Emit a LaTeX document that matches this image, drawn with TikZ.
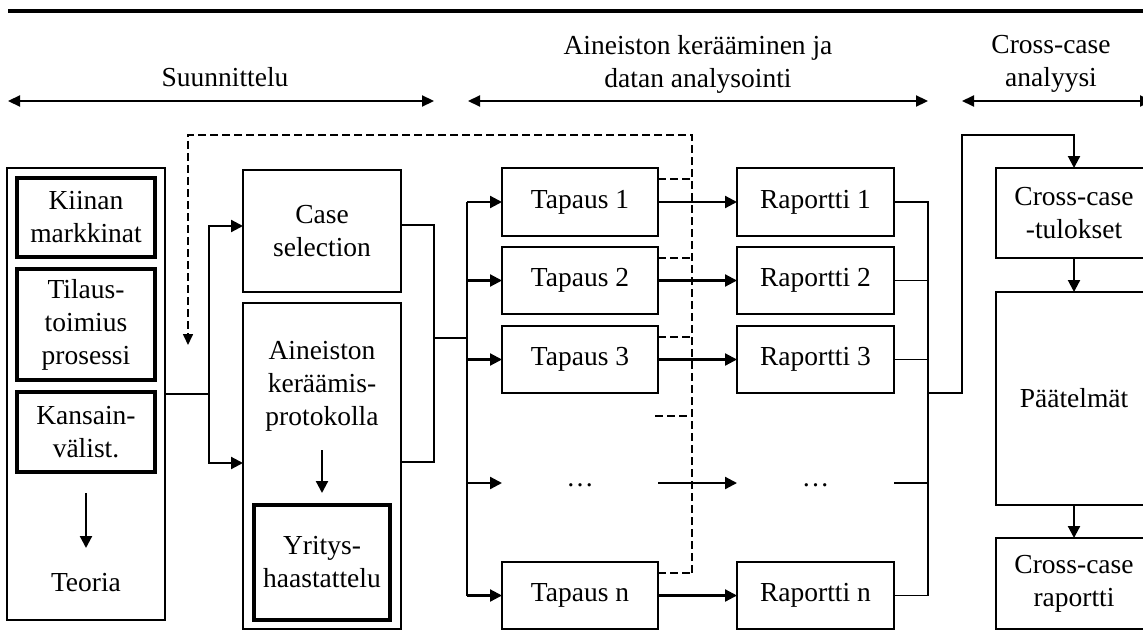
\documentclass[tikz,border=0pt]{standalone}
\usepackage{fontspec}
\setmainfont{Liberation Serif}
\usetikzlibrary{arrows.meta}
\begin{document}
\begin{tikzpicture}[x=0.5pt,y=-0.5pt,
  font=\fontsize{13.75}{16.5}\selectfont,
  box/.style={draw, line width=0.7pt, inner sep=0pt, outer sep=0pt, align=center},
  tbox/.style={draw, line width=1.7pt, inner sep=0pt, outer sep=0pt, align=center},
  conn/.style={line width=0.7pt},
  trunk/.style={line width=1.1pt},
  arr/.style={line width=1.1pt, -{Triangle[length=6pt,width=6pt]}},
  darr/.style={line width=1.1pt, {Triangle[length=6pt,width=5.5pt]}-{Triangle[length=6pt,width=5.5pt]}},
  fback/.style={line width=0.8pt, dash pattern=on 4pt off 2pt},
]
\useasboundingbox (0,0) rectangle (1143,642);
\fill[white] (0,0) rectangle (1143,642);
\clip (0,0) rectangle (1143,642);

% top rule
\coordinate (rl0) at (8,11);
\coordinate (rr0) at (1143,11);
\draw[line width=2pt] (rl0) -- (rr0);

% phase headings
\node[anchor=base] (hs) at (225,87) {Suunnittelu};
\node[align=center] (ha) at (698,64) {Aineiston kerääminen ja\\datan analysointi};
\node[align=center] (hc) at (1051,64) {Cross-case\\analyysi};

\coordinate (d1a) at (8,101);   \coordinate (d1b) at (434,101);
\coordinate (d2a) at (468,101); \coordinate (d2b) at (928,101);
\coordinate (d3a) at (962,101); \coordinate (d3b) at (1152,101);
\draw[darr] (d1a) -- (d1b);
\draw[darr] (d2a) -- (d2b);
\draw[darr] (d3a) -- (d3b);

% theory column
\node[box, minimum width=79pt, minimum height=226pt] (lft) at (86,394) {};
\node[tbox, minimum width=69pt, minimum height=39.5pt] (kii) at (86,217.5) {Kiinan\\markkinat};
\node[tbox, minimum width=69pt, minimum height=55.5pt] (til) at (86,324.5) {Tilaus-\\toimius\\prosessi};
\node[tbox, minimum width=69pt, minimum height=40pt] (kan) at (86,432) {Kansain-\\välist.};
\node (teo) at (86,583) {Teoria};
\coordinate (ta) at (86,493);
\coordinate (tb) at (86,548);
\draw[arr] (ta) -- (tb);

% design column
\node[box, minimum width=79pt, minimum height=61pt] (cs) at (322,231) {Case\\selection};
\node[box, minimum width=79pt, minimum height=163pt] (ain) at (322,466) {};
\node[align=center] (aint) at (322,386) {Aineiston\\keräämis-\\protokolla};
\node[tbox, minimum width=68pt, minimum height=57.5pt] (yri) at (322,562.5) {Yritys-\\haastattelu};
\coordinate (aa) at (322,450);
\coordinate (ab) at (322,493);
\draw[arr] (aa) -- (ab);

\coordinate (s1) at (209,394);
\draw[conn] (lft.east) -- (s1);
\draw[arr] (s1) |- ([yshift=2.5pt]cs.west);
\draw[arr] (s1) |- ([yshift=1.5pt]ain.west);

\coordinate (j1) at (434,338);
\coordinate (tr) at (467,338);
\draw[conn] ([yshift=3pt]cs.east) -| (j1);
\draw[conn] ([yshift=2pt]ain.east) -| (j1);
\draw[conn] (j1) -- (tr);

% cases
\node[box, minimum width=78pt, minimum height=34pt] (t1) at (580,202) {Tapaus 1};
\node[box, minimum width=78pt, minimum height=33.5pt] (t2) at (580,280.5) {Tapaus 2};
\node[box, minimum width=78pt, minimum height=33.5pt] (t3) at (580,359.5) {Tapaus 3};
\node[anchor=base] (td) at (580,486) {…};
\node[box, minimum width=78pt, minimum height=33.5pt] (tn) at (580,595.5) {Tapaus n};
\coordinate (dl) at (502,483);
\coordinate (dr) at (658,483);

\coordinate (tt) at (467,202);
\coordinate (tbm) at (467,595.5);
\draw[trunk] (tt) -- (tbm);
\draw[arr] (tt) -- (t1.west);
\draw[arr] (tt |- t2.west) -- (t2.west);
\draw[arr] (tt |- t3.west) -- (t3.west);
\draw[arr] (tt |- dl) -- (dl);
\draw[arr] (tbm) -- (tn.west);

% reports
\node[box, minimum width=78.5pt, minimum height=34pt] (r1) at (815.5,202) {Raportti 1};
\node[box, minimum width=78.5pt, minimum height=33.5pt] (r2) at (815.5,280.5) {Raportti 2};
\node[box, minimum width=78.5pt, minimum height=33.5pt] (r3) at (815.5,359.5) {Raportti 3};
\node[anchor=base] (rd) at (815.5,486) {…};
\node[box, minimum width=78.5pt, minimum height=33.5pt] (rn) at (815.5,595.5) {Raportti n};
\coordinate (rdl) at (737,483);
\coordinate (rdr) at (894,483);

\draw[arr] (t1) -- (r1);
\draw[arr] (t2) -- (r2);
\draw[arr] (t3) -- (r3);
\draw[arr] (dr) -- (rdl);
\draw[arr] (tn) -- (rn);

\coordinate (rb) at (928,595.5);
\draw[conn] (r1.east) -| (rb) -- (rn.east);
\draw[conn] (r2.east) -- (r2.east -| rb);
\draw[conn] (r3.east) -- (r3.east -| rb);
\draw[conn] (rdr) -- (rdr -| rb);

% cross-case column
\node[box, minimum width=78pt, minimum height=45pt] (cct) at (1074,213) {Cross-case\\-tulokset};
\node[box, minimum width=78pt, minimum height=106.5pt] (pae) at (1074,398.5) {Päätelmät};
\node[box, minimum width=78pt, minimum height=45.5pt] (ccr) at (1074,583.5) {Cross-case\\raportti};

\coordinate (ro) at (928,393);
\coordinate (up) at (962,135);
\draw[arr] (ro) -| (up) -| (cct.north);
\draw[arr] (cct) -- (pae);
\draw[arr] (pae) -- (ccr);

% feedback loop (dashed)
\coordinate (fd) at (692,573);
\coordinate (fa) at (692,135);
\coordinate (fb) at (188,135);
\coordinate (fc) at (188,345);
\draw[fback, -{Triangle[length=5.5pt,width=5pt]}] (fd) -- (fa) -- (fb) -- (fc);
\coordinate (ds) at (655,416);
\draw[fback] ([yshift=-5.5pt]t1.north east) -- ([yshift=-5.5pt]t1.north east -| fa);
\draw[fback] ([yshift=-5.5pt]t2.north east) -- ([yshift=-5.5pt]t2.north east -| fa);
\draw[fback] ([yshift=-5.5pt]t3.north east) -- ([yshift=-5.5pt]t3.north east -| fa);
\draw[fback] (ds) -- (ds -| fa);
\draw[fback] ([yshift=-5.5pt]tn.north east) -- ([yshift=-5.5pt]tn.north east -| fa);
\end{tikzpicture}
\end{document}
